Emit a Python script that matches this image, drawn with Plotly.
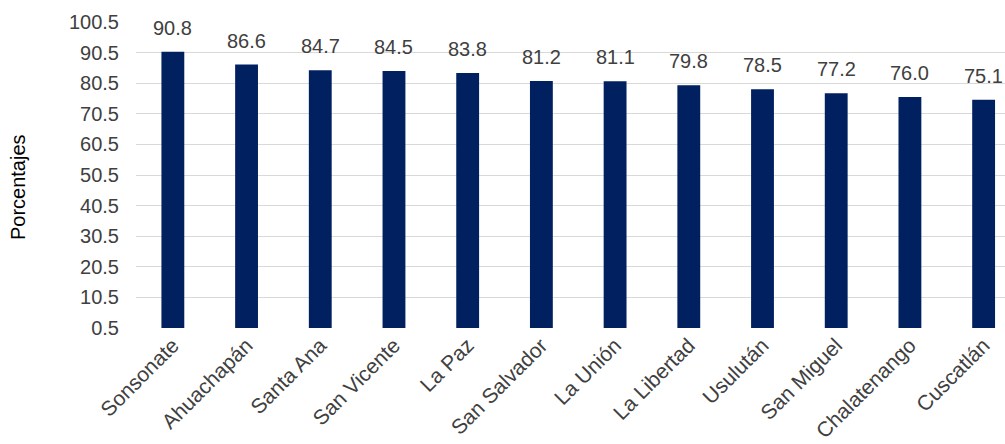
import plotly.graph_objects as go

departamentos = ["Sonsonate", "Ahuachapán", "Santa Ana", "San Vicente", "La Paz",
                 "San Salvador", "La Unión", "La Libertad", "Usulután", "San Miguel",
                 "Chalatenango", "Cuscatlán"]
porcentajes = [90.8, 86.6, 84.7, 84.5, 83.8, 81.2, 81.1, 79.8, 78.5, 77.2, 76.0, 75.1]
y_ticks = [0.5, 10.5, 20.5, 30.5, 40.5, 50.5, 60.5, 70.5, 80.5, 90.5, 100.5]

FONT = "Liberation Sans, Arial, sans-serif"
TXT = "#404040"

fig = go.Figure()
fig.add_trace(go.Bar(
    x=departamentos, y=[v - 0.5 for v in porcentajes], base=0.5,
    marker=dict(color="#002060", line=dict(width=0)),
    width=0.31, hoverinfo="x",
))

for d, v in zip(departamentos, porcentajes):
    fig.add_annotation(x=d, y=v, text=f"{v:.1f}", showarrow=False,
                       yanchor="bottom", yshift=11,
                       font=dict(family=FONT, size=20, color=TXT))

fig.add_annotation(text="Porcentajes", xref="paper", yref="paper",
                   x=-0.136, y=0.46, xanchor="center", yanchor="middle",
                   textangle=-90, showarrow=False,
                   font=dict(family=FONT, size=20, color="#000000"))

fig.update_layout(
    width=1005, height=444,
    margin=dict(l=136, r=0, t=22, b=116),
    plot_bgcolor="white", paper_bgcolor="white",
    showlegend=False,
    font=dict(family=FONT, size=20, color=TXT),
    xaxis=dict(range=[-0.5, 11.29], tickangle=-45, showgrid=False,
               showline=False, ticks="", tickfont=dict(size=21, color=TXT)),
    yaxis=dict(range=[0.5, 100.5], tickvals=y_ticks,
               ticktext=[f"{t:.1f}" for t in y_ticks],
               showgrid=True, gridcolor="#d9d9d9", gridwidth=1,
               zeroline=False, showline=False, ticks="",
               ticklabelstandoff=16,
               tickfont=dict(size=20, color=TXT)),
)
fig.write_html("out.html")
